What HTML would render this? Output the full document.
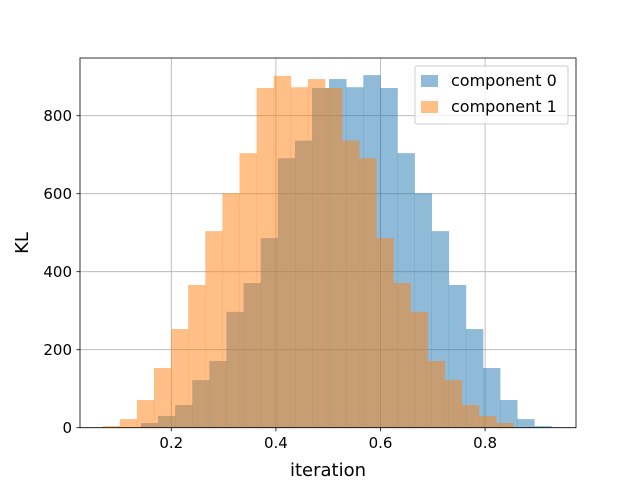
<!DOCTYPE html>
<html><head><meta charset="utf-8"><style>
body{margin:0;background:#fff;}
svg text{font-family:"DejaVu Sans","Liberation Sans",sans-serif;fill:#000;}
</style></head><body>
<svg id="chart" width="640" height="480" xmlns="http://www.w3.org/2000/svg">
<g id="grid"></g>
<g id="bars"></g>
<rect x="80" y="58" width="496" height="369.7" fill="none" stroke="#000" stroke-width="0.8"/>
<g id="ticks"></g>
<text x="328" y="476" font-size="18" text-anchor="middle">iteration</text>
<text transform="translate(28,243) rotate(-90)" font-size="18" text-anchor="middle">KL</text>
<g>
<rect x="415" y="66" width="153" height="58" rx="2" fill="#fff" fill-opacity="0.8" stroke="#ccc"/>
<rect x="421" y="75" width="17" height="12" fill="#1f77b4" fill-opacity="0.5"/>
<text x="451" y="86" font-size="16">component 0</text>
<rect x="421" y="101" width="17" height="12" fill="#ff7f0e" fill-opacity="0.5"/>
<text x="451" y="112" font-size="16">component 1</text>
</g>
</svg>
<script>
const binWidth = 0.0327;
const start0 = 0.142;
const start1 = 0.0688;
const counts0 = [12,30,58,122,171,297,371,486,691,736,871,894,873,904,871,704,601,504,366,253,153,71,22,4];
const counts1 = [4,22,71,153,253,366,504,601,704,871,902,873,894,871,736,691,486,371,297,171,122,58,30,12];
const xTicks = [0.2,0.4,0.6,0.8];
const yTicks = [0,200,400,600,800];
const X = v => 66.7 + v*523;
const Y = v => 427.7 - v*0.39;
const NS="http://www.w3.org/2000/svg";
const grid=document.getElementById('grid'), bars=document.getElementById('bars'), ticks=document.getElementById('ticks');
function mk(tag,attrs,parent){const e=document.createElementNS(NS,tag);for(const k in attrs)e.setAttribute(k,attrs[k]);parent.appendChild(e);return e;}
xTicks.forEach(t=>{
  const g=mk('line',{x1:X(t),x2:X(t),y1:58,y2:427.7,stroke:'#b0b0b0','stroke-width':0.8},grid);
  
  
  const tk=mk('line',{x1:X(t),x2:X(t),y1:427.7,y2:431.2,stroke:'#000','stroke-width':0.8},ticks);
  
  
  const tx=mk('text',{x:X(t),y:448,'font-size':15,'text-anchor':'middle'},ticks);
  tx.textContent=t.toFixed(1);
  
  
});
yTicks.forEach(t=>{
  const g=mk('line',{x1:80,x2:576,y1:Y(t),y2:Y(t),stroke:'#b0b0b0','stroke-width':0.8},grid);
  
  
  const tk=mk('line',{x1:76.5,x2:80,y1:Y(t),y2:Y(t),stroke:'#000','stroke-width':0.8},ticks);
  
  
  const tx=mk('text',{x:72,y:Y(t)+5.5,'font-size':15,'text-anchor':'end'},ticks);
  tx.textContent=String(t);
  
  
});
function drawSeries(counts,start,color,name){
  counts.forEach((c,i)=>{
    const x0=X(start+i*binWidth), x1=X(start+(i+1)*binWidth);
    const r=mk('rect',{x:x0,y:Y(c),width:x1-x0+0.3,height:Y(0)-Y(c),fill:color,'fill-opacity':0.5},bars);
    
    
  });
}
drawSeries(counts0,start0,'#1f77b4','component-0');
drawSeries(counts1,start1,'#ff7f0e','component-1');
</script>
</body></html>
